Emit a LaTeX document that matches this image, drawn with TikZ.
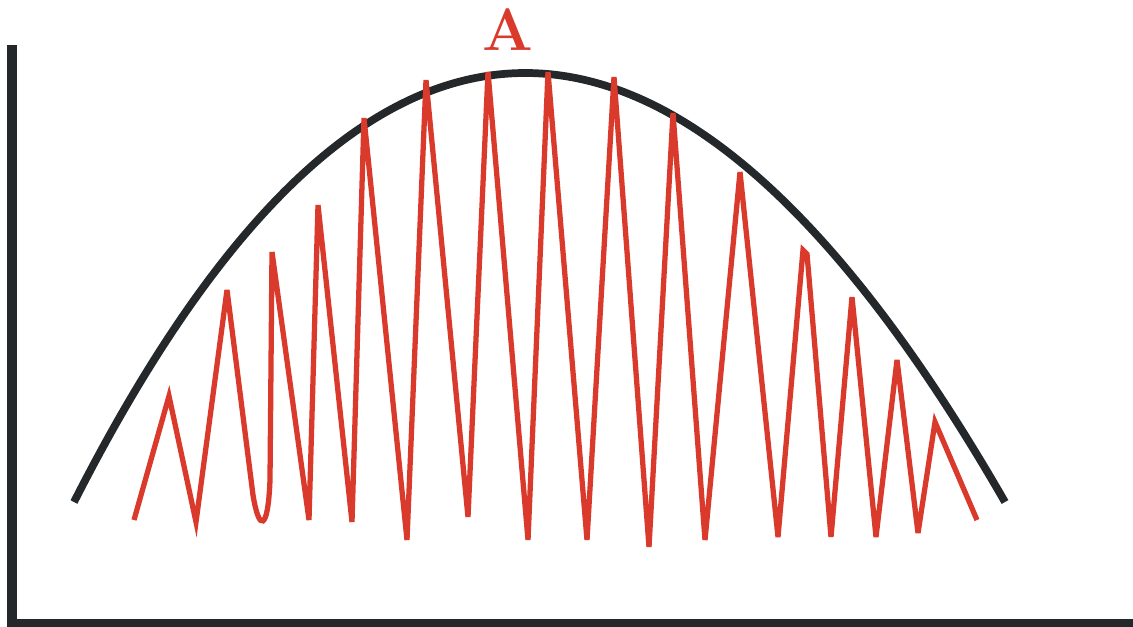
\documentclass[tikz,border=0pt]{standalone}
\usepackage{tikz}
\definecolor{axisgray}{HTML}{24282B}
\definecolor{wavered}{HTML}{DA3A2B}

\begin{document}
\begin{tikzpicture}[x=0.01cm,y=-0.01cm]
\useasboundingbox (0,0) rectangle (1133,626);
% axes
\draw[axisgray,line width=2.8pt] (12,45) -- (12,623);
\draw[axisgray,line width=2.1pt] (7,623) -- (1133,623);
% envelope
\draw[axisgray,line width=2.2pt] (74,502) .. controls (365,-70) and (676,-70) .. (1005,502);
% oscillation
\draw[wavered,line width=1.5pt,miter limit=6] (134,520) -- (169,396) -- (196,522) -- (227,290)
  -- (253,495) .. controls (259,532) and (268,532) .. (270,480) -- (272,252)
  -- (309,520) -- (318,205) -- (352,522) -- (364,118) -- (407,540) -- (426,80)
  -- (468,517) -- (488,72) -- (528,540) -- (548,72) -- (587,540) -- (614,77)
  -- (649,547) -- (673,113) -- (705,540) -- (740,172) -- (778,537) -- (803,250)
  -- (807,254) -- (831,537) -- (852,297) -- (876,537) -- (897,360) -- (918,533)
  -- (935,422) -- (977,520);
\node[wavered,font=\fontsize{17}{20}\selectfont\bfseries] (peakA) at (508,30) {A};
\end{tikzpicture}
\end{document}
